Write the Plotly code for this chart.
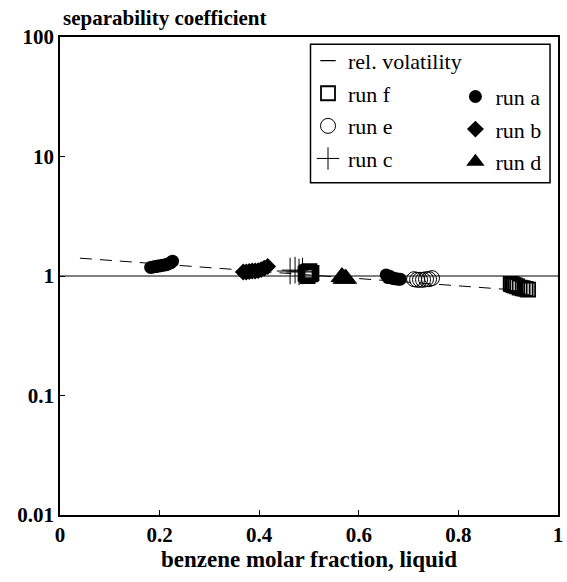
import plotly.graph_objects as go

# ---- data ----
vol_x = [0.04, 0.2, 0.4, 0.6, 0.8, 0.93]
vol_y = [1.41, 1.26, 1.10, 0.95, 0.83, 0.755]

run_a_x = [0.182, 0.187, 0.192, 0.197, 0.202, 0.207, 0.212, 0.217, 0.222, 0.226,
           0.655, 0.659, 0.663, 0.667, 0.671, 0.675, 0.679, 0.683]
run_a_y = [1.18, 1.19, 1.2, 1.21, 1.22, 1.23, 1.24, 1.26, 1.29, 1.33,
           1.02, 0.97, 0.99, 0.96, 0.95, 0.95, 0.94, 0.94]

run_b_x = [0.368, 0.374, 0.38, 0.386, 0.392, 0.398, 0.404, 0.41, 0.417]
run_b_y = [1.08, 1.08, 1.09, 1.1, 1.1, 1.11, 1.13, 1.16, 1.2]

run_c_x = [0.462, 0.472, 0.48, 0.487]
run_c_y = [1.1, 1.12, 1.08, 1.1]

run_d_x = [0.566, 0.57, 0.574]
run_d_y = [0.98, 0.95, 0.95]

run_e_x = [0.711, 0.717, 0.723, 0.729, 0.735, 0.741, 0.747]
run_e_y = [0.94, 0.93, 0.93, 0.93, 0.94, 0.94, 0.96]

run_f_x = [0.493, 0.495, 0.497, 0.499, 0.501, 0.503, 0.505, 0.497, 0.501,
           0.905, 0.908, 0.911, 0.914, 0.918, 0.923, 0.929, 0.935, 0.94]
run_f_y = [1.04, 1.07, 1.02, 1.08, 1.05, 1.03, 1.06, 1.0, 1.1,
           0.86, 0.85, 0.84, 0.83, 0.82, 0.8, 0.79, 0.78, 0.77]

unity_x = [0, 1]
unity_y = [1, 1]

y_tickvals = [0.01, 0.1, 1, 10, 100]
y_ticktext = ["0.01", "0.1", "1", "10", "100"]
x_tickvals = [0, 0.2, 0.4, 0.6, 0.8, 1]
x_ticktext = ["0", "0.2", "0.4", "0.6", "0.8", "1"]

FONT = "Liberation Serif"
BLACK = "black"

fig = go.Figure()

# y = 1 reference line
fig.add_trace(go.Scatter(x=unity_x, y=unity_y, mode="lines",
                         line=dict(color=BLACK, width=1), showlegend=False,
                         hoverinfo="skip"))
# relative volatility dashed line
fig.add_trace(go.Scatter(x=vol_x, y=vol_y, mode="lines",
                         line=dict(color=BLACK, width=1, dash="12px,8px"),
                         showlegend=False))
# legend-only entry for rel. volatility
fig.add_trace(go.Scatter(x=[None], y=[None], mode="markers", name="rel. volatility",
                         marker=dict(symbol="line-ew", size=11, color=BLACK,
                                     line=dict(color=BLACK, width=1.3)),
                         legend="legend", legendgroup="v"))

fig.add_trace(go.Scatter(x=run_f_x, y=run_f_y, mode="markers", name="run f",
                         marker=dict(symbol="square-open", size=14, color=BLACK,
                                     line=dict(color=BLACK, width=1.8)),
                         legend="legend", legendgroup="f"))
fig.add_trace(go.Scatter(x=run_e_x, y=run_e_y, mode="markers", name="run e",
                         marker=dict(symbol="circle-open", size=15, color=BLACK,
                                     line=dict(color=BLACK, width=1)),
                         legend="legend", legendgroup="e"))
fig.add_trace(go.Scatter(x=run_c_x, y=run_c_y, mode="markers", name="run c",
                         marker=dict(symbol="cross-thin", size=19, color=BLACK,
                                     line=dict(color=BLACK, width=1)),
                         legend="legend", legendgroup="c"))

fig.add_trace(go.Scatter(x=run_a_x, y=run_a_y, mode="markers", name="run a",
                         marker=dict(symbol="circle", size=13, color=BLACK),
                         legend="legend2", legendgroup="a"))
fig.add_trace(go.Scatter(x=run_b_x, y=run_b_y, mode="markers", name="run b",
                         marker=dict(symbol="diamond", size=13, color=BLACK),
                         legend="legend2", legendgroup="b"))
fig.add_trace(go.Scatter(x=run_d_x, y=run_d_y, mode="markers", name="run d",
                         marker=dict(symbol="triangle-up", size=20, color=BLACK),
                         legend="legend2", legendgroup="d"))

legend_common = dict(font=dict(family=FONT, size=22, color=BLACK),
                     bgcolor="rgba(0,0,0,0)", borderwidth=0,
                     tracegroupgap=1, xanchor="left", yanchor="top",
                     itemwidth=30)

fig.update_layout(
    width=567, height=582,
    margin=dict(l=60, r=4, t=37, b=67),
    paper_bgcolor="white", plot_bgcolor="white",
    font=dict(family=FONT, color=BLACK),
    legend=dict(x=0.498, y=0.994, **legend_common),
    legend2=dict(x=0.794, y=0.919, **legend_common),
    xaxis=dict(range=[0, 1], tickvals=x_tickvals, ticktext=x_ticktext,
               showgrid=False, zeroline=False, showline=True, linecolor=BLACK,
               linewidth=1.5, mirror=True, ticks="inside", ticklen=5,
               tickcolor=BLACK,
               tickfont=dict(family=FONT, size=21, color=BLACK, weight="bold")),
    yaxis=dict(type="log", range=[-2, 2], tickvals=y_tickvals, ticktext=y_ticktext,
               showgrid=False, zeroline=False, showline=True, linecolor=BLACK,
               linewidth=1.5, mirror=True, ticks="inside", ticklen=5,
               tickcolor=BLACK,
               tickfont=dict(family=FONT, size=21, color=BLACK, weight="bold")),
    annotations=[
        dict(text="separability coefficient", xref="paper", yref="paper",
             x=0.003, y=1, xanchor="left", yanchor="bottom", yshift=5,
             showarrow=False,
             font=dict(family=FONT, size=21, color=BLACK, weight="bold")),
        dict(text="benzene molar fraction, liquid", xref="paper", yref="paper",
             x=0.5, y=0, xanchor="center", yanchor="middle", yshift=-44,
             showarrow=False,
             font=dict(family=FONT, size=23, color=BLACK, weight="bold")),
    ],
    shapes=[dict(type="rect", xref="paper", yref="paper",
                 x0=0.503, x1=0.984, y0=0.695, y1=0.985,
                 line=dict(color=BLACK, width=1.5), fillcolor="white", layer="below")],
)

fig.write_html("out.html", config={"displayModeBar": False},
               post_script="document.body.style.margin='0px';")
